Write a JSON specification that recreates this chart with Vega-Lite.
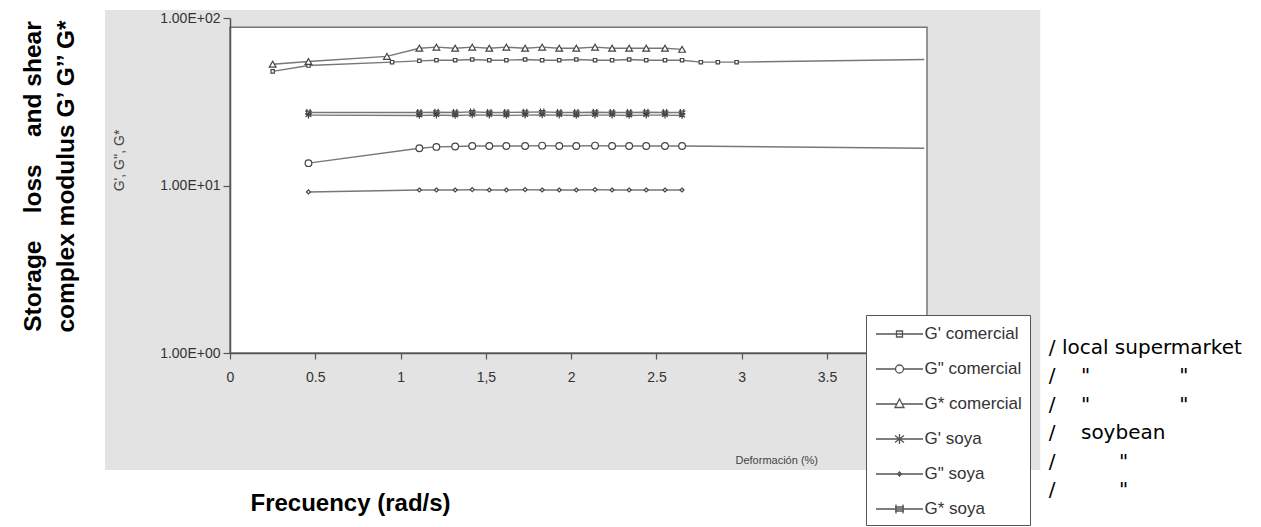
{
  "$schema": "https://vega.github.io/schema/vega-lite/v6.json",
  "width": 697,
  "height": 335,
  "autosize": {"type": "none"},
  "padding": {"left": 230, "top": 18, "right": 334, "bottom": 174},
  "background": "white",
  "config": {"view": {"stroke": null}, "font": "Liberation Sans"},
  "datasets": {
    "curves": [
      {"series": "G' comercial", "x": 0.25, "y": 48},
      {"series": "G' comercial", "x": 0.46, "y": 52},
      {"series": "G' comercial", "x": 0.95, "y": 54.5},
      {"series": "G' comercial", "x": 1.11, "y": 55.5},
      {"series": "G' comercial", "x": 1.21, "y": 56},
      {"series": "G' comercial", "x": 1.32, "y": 56},
      {"series": "G' comercial", "x": 1.42, "y": 56.5},
      {"series": "G' comercial", "x": 1.52, "y": 56},
      {"series": "G' comercial", "x": 1.62, "y": 56},
      {"series": "G' comercial", "x": 1.73, "y": 56.5},
      {"series": "G' comercial", "x": 1.83, "y": 56},
      {"series": "G' comercial", "x": 1.93, "y": 56},
      {"series": "G' comercial", "x": 2.03, "y": 56.5},
      {"series": "G' comercial", "x": 2.14, "y": 56},
      {"series": "G' comercial", "x": 2.24, "y": 56},
      {"series": "G' comercial", "x": 2.34, "y": 56.5},
      {"series": "G' comercial", "x": 2.44, "y": 56},
      {"series": "G' comercial", "x": 2.55, "y": 56},
      {"series": "G' comercial", "x": 2.65, "y": 56},
      {"series": "G' comercial", "x": 2.76, "y": 54.5},
      {"series": "G' comercial", "x": 2.86, "y": 54.5},
      {"series": "G' comercial", "x": 2.97, "y": 54.5},
      {"series": "G' comercial", "x": 4.07, "y": 56.5},
      {"series": "G\" comercial", "x": 0.46, "y": 13.6},
      {"series": "G\" comercial", "x": 1.11, "y": 16.7},
      {"series": "G\" comercial", "x": 1.21, "y": 17.0},
      {"series": "G\" comercial", "x": 1.32, "y": 17.1},
      {"series": "G\" comercial", "x": 1.42, "y": 17.2},
      {"series": "G\" comercial", "x": 1.52, "y": 17.2},
      {"series": "G\" comercial", "x": 1.62, "y": 17.2},
      {"series": "G\" comercial", "x": 1.73, "y": 17.2},
      {"series": "G\" comercial", "x": 1.83, "y": 17.3},
      {"series": "G\" comercial", "x": 1.93, "y": 17.2},
      {"series": "G\" comercial", "x": 2.03, "y": 17.2},
      {"series": "G\" comercial", "x": 2.14, "y": 17.3},
      {"series": "G\" comercial", "x": 2.24, "y": 17.2},
      {"series": "G\" comercial", "x": 2.34, "y": 17.2},
      {"series": "G\" comercial", "x": 2.44, "y": 17.2},
      {"series": "G\" comercial", "x": 2.55, "y": 17.2},
      {"series": "G\" comercial", "x": 2.65, "y": 17.2},
      {"series": "G\" comercial", "x": 4.07, "y": 16.7},
      {"series": "G* comercial", "x": 0.25, "y": 53},
      {"series": "G* comercial", "x": 0.46, "y": 55},
      {"series": "G* comercial", "x": 0.92, "y": 59},
      {"series": "G* comercial", "x": 1.11, "y": 66},
      {"series": "G* comercial", "x": 1.21, "y": 67},
      {"series": "G* comercial", "x": 1.32, "y": 66},
      {"series": "G* comercial", "x": 1.42, "y": 67},
      {"series": "G* comercial", "x": 1.52, "y": 66},
      {"series": "G* comercial", "x": 1.62, "y": 67},
      {"series": "G* comercial", "x": 1.73, "y": 66},
      {"series": "G* comercial", "x": 1.83, "y": 67},
      {"series": "G* comercial", "x": 1.93, "y": 66},
      {"series": "G* comercial", "x": 2.03, "y": 66},
      {"series": "G* comercial", "x": 2.14, "y": 67},
      {"series": "G* comercial", "x": 2.24, "y": 66},
      {"series": "G* comercial", "x": 2.34, "y": 66},
      {"series": "G* comercial", "x": 2.44, "y": 66},
      {"series": "G* comercial", "x": 2.55, "y": 66},
      {"series": "G* comercial", "x": 2.65, "y": 65},
      {"series": "G' soya", "x": 0.46, "y": 26.3},
      {"series": "G' soya", "x": 1.11, "y": 26.2},
      {"series": "G' soya", "x": 1.21, "y": 26.3},
      {"series": "G' soya", "x": 1.32, "y": 26.2},
      {"series": "G' soya", "x": 1.42, "y": 26.4},
      {"series": "G' soya", "x": 1.52, "y": 26.3},
      {"series": "G' soya", "x": 1.62, "y": 26.2},
      {"series": "G' soya", "x": 1.73, "y": 26.3},
      {"series": "G' soya", "x": 1.83, "y": 26.4},
      {"series": "G' soya", "x": 1.93, "y": 26.3},
      {"series": "G' soya", "x": 2.03, "y": 26.2},
      {"series": "G' soya", "x": 2.14, "y": 26.3},
      {"series": "G' soya", "x": 2.24, "y": 26.3},
      {"series": "G' soya", "x": 2.34, "y": 26.2},
      {"series": "G' soya", "x": 2.44, "y": 26.3},
      {"series": "G' soya", "x": 2.55, "y": 26.3},
      {"series": "G' soya", "x": 2.65, "y": 26.2},
      {"series": "G\" soya", "x": 0.46, "y": 9.15},
      {"series": "G\" soya", "x": 1.11, "y": 9.4},
      {"series": "G\" soya", "x": 1.21, "y": 9.4},
      {"series": "G\" soya", "x": 1.32, "y": 9.4},
      {"series": "G\" soya", "x": 1.42, "y": 9.45},
      {"series": "G\" soya", "x": 1.52, "y": 9.4},
      {"series": "G\" soya", "x": 1.62, "y": 9.4},
      {"series": "G\" soya", "x": 1.73, "y": 9.45},
      {"series": "G\" soya", "x": 1.83, "y": 9.4},
      {"series": "G\" soya", "x": 1.93, "y": 9.4},
      {"series": "G\" soya", "x": 2.03, "y": 9.4},
      {"series": "G\" soya", "x": 2.14, "y": 9.45},
      {"series": "G\" soya", "x": 2.24, "y": 9.4},
      {"series": "G\" soya", "x": 2.34, "y": 9.4},
      {"series": "G\" soya", "x": 2.44, "y": 9.4},
      {"series": "G\" soya", "x": 2.55, "y": 9.4},
      {"series": "G\" soya", "x": 2.65, "y": 9.4},
      {"series": "G* soya", "x": 0.46, "y": 27.3},
      {"series": "G* soya", "x": 1.11, "y": 27.3},
      {"series": "G* soya", "x": 1.21, "y": 27.4},
      {"series": "G* soya", "x": 1.32, "y": 27.3},
      {"series": "G* soya", "x": 1.42, "y": 27.5},
      {"series": "G* soya", "x": 1.52, "y": 27.3},
      {"series": "G* soya", "x": 1.62, "y": 27.3},
      {"series": "G* soya", "x": 1.73, "y": 27.4},
      {"series": "G* soya", "x": 1.83, "y": 27.5},
      {"series": "G* soya", "x": 1.93, "y": 27.3},
      {"series": "G* soya", "x": 2.03, "y": 27.3},
      {"series": "G* soya", "x": 2.14, "y": 27.4},
      {"series": "G* soya", "x": 2.24, "y": 27.3},
      {"series": "G* soya", "x": 2.34, "y": 27.3},
      {"series": "G* soya", "x": 2.44, "y": 27.4},
      {"series": "G* soya", "x": 2.55, "y": 27.3},
      {"series": "G* soya", "x": 2.65, "y": 27.3}
    ],
    "notes": [
      {"series": "G' comercial", "note": "/ local supermarket"},
      {"series": "G\" comercial", "note": "/\u00a0\u00a0\u00a0\u00a0\"\u00a0\u00a0\u00a0\u00a0\u00a0\u00a0\u00a0\u00a0\u00a0\u00a0\u00a0\u00a0\u00a0\u00a0\""},
      {"series": "G* comercial", "note": "/\u00a0\u00a0\u00a0\u00a0\"\u00a0\u00a0\u00a0\u00a0\u00a0\u00a0\u00a0\u00a0\u00a0\u00a0\u00a0\u00a0\u00a0\u00a0\""},
      {"series": "G' soya", "note": "/\u00a0\u00a0\u00a0\u00a0soybean"},
      {"series": "G\" soya", "note": "/\u00a0\u00a0\u00a0\u00a0\u00a0\u00a0\u00a0\u00a0\u00a0\u00a0\""},
      {"series": "G* soya", "note": "/\u00a0\u00a0\u00a0\u00a0\u00a0\u00a0\u00a0\u00a0\u00a0\u00a0\""}
    ]
  },
  "resolve": {"scale": {"x": "independent", "y": "independent"}},
  "layer": [
    {
      "resolve": {"scale": {"shape": "independent"}},
      "layer": [
        {
          "data": {"values": [{}]},
          "mark": {"type": "rect", "fill": "#e3e3e3"},
          "encoding": {
            "x": {
              "datum": -0.733, "type": "quantitative",
              "scale": {"domain": [0, 4.086], "nice": false, "zero": false},
              "axis": {
                "values": [0, 0.5, 1, 1.5, 2, 2.5, 3, 3.5],
                "format": "~g",
                "labelExpr": "datum.value == 1.5 ? '1,5' : datum.label",
                "grid": false, "zindex": 1,
                "domainColor": "#555", "domainWidth": 1.5,
                "tickColor": "#555", "tickSize": 6, "tickWidth": 1.2,
                "labelFontSize": 14, "labelColor": "#333", "labelPadding": 11,
                "labelFlush": false, "labelOverlap": false,
                "title": "Frecuency (rad/s)",
                "titleFontSize": 24, "titleFontWeight": "bold", "titleColor": "black",
                "titleX": 20, "titleY": 157, "titleAlign": "left", "titleBaseline": "alphabetic"
              }
            },
            "x2": {"datum": 4.75},
            "y": {
              "datum": 111.6, "type": "quantitative",
              "scale": {"type": "log", "domain": [1, 100], "nice": false},
              "axis": {
                "values": [1, 10, 100],
                "labelExpr": "datum.value == 1 ? '1.00E+00' : (datum.value == 10 ? '1.00E+01' : '1.00E+02')",
                "grid": false, "zindex": 1,
                "domainColor": "#555", "domainWidth": 1.5,
                "tickColor": "#555", "tickSize": 7, "tickWidth": 1.2,
                "labelFontSize": 14, "labelColor": "#333", "labelPadding": 3,
                "labelFlush": false, "labelOverlap": false,
                "title": ["Storage\u00a0\u00a0\u00a0 loss\u00a0\u00a0\u00a0 and shear", "complex modulus G’ G’’ G*"],
                "titleFontSize": 24.5, "titleFontWeight": "bold", "titleColor": "black",
                "titleLineHeight": 33, "titleAngle": 270,
                "titleX": -185, "titleY": 158, "titleAlign": "center", "titleBaseline": "bottom"
              }
            },
            "y2": {"datum": 0.2}
          }
        },
        {
          "data": {"values": [{}]},
          "mark": {"type": "rect", "fill": "white", "stroke": "#777", "strokeWidth": 1.5},
          "encoding": {
            "x": {"datum": 0, "type": "quantitative", "scale": {"domain": [0, 4.086], "nice": false, "zero": false}},
            "x2": {"datum": 4.086},
            "y": {"datum": 88, "type": "quantitative", "scale": {"type": "log", "domain": [1, 100], "nice": false}},
            "y2": {"datum": 1}
          }
        },
        {
          "data": {"name": "curves"},
          "mark": {"type": "line", "color": "#777", "strokeWidth": 1.4},
          "encoding": {
            "x": {"field": "x", "type": "quantitative", "scale": {"domain": [0, 4.086], "nice": false, "zero": false}},
            "y": {"field": "y", "type": "quantitative", "scale": {"type": "log", "domain": [1, 100], "nice": false}},
            "detail": {"field": "series"}
          }
        },
        {
          "data": {"name": "curves"},
          "transform": [{"filter": "datum.x < 4"}],
          "mark": {"type": "point", "fill": "white", "stroke": "#444", "strokeWidth": 1.2, "size": 45, "opacity": 1},
          "encoding": {
            "x": {"field": "x", "type": "quantitative", "scale": {"domain": [0, 4.086], "nice": false, "zero": false}},
            "y": {"field": "y", "type": "quantitative", "scale": {"type": "log", "domain": [1, 100], "nice": false}},
            "shape": {
              "field": "series", "type": "nominal",
              "scale": {
                "domain": ["G' comercial", "G\" comercial", "G* comercial", "G' soya", "G\" soya", "G* soya"],
                "range": [
                  "M-0.5,-0.5H0.5V0.5H-0.5Z",
                  "circle",
                  "triangle-up",
                  "M0,-1V1M-0.87,-0.5L0.87,0.5M-0.87,0.5L0.87,-0.5",
                  "M0,-0.6L0.6,0L0,0.6L-0.6,0Z",
                  "M-0.5,-1V1M0.5,-1V1M-1,-0.4H1M-1,0.4H1"
                ]
              },
              "legend": null
            }
          }
        },
        {
          "data": {"name": "curves"},
          "mark": {"type": "point", "filled": false, "color": "#555", "strokeWidth": 1.3, "size": 400, "opacity": 0},
          "encoding": {
            "x": {"field": "x", "type": "quantitative", "scale": {"domain": [0, 4.086], "nice": false, "zero": false}},
            "y": {"field": "y", "type": "quantitative", "scale": {"type": "log", "domain": [1, 100], "nice": false}},
            "shape": {
              "field": "series", "type": "nominal",
              "scale": {
                "domain": ["G' comercial", "G\" comercial", "G* comercial", "G' soya", "G\" soya", "G* soya"],
                "range": [
                  "M-2.35,0H2.35M-0.3,-0.3H0.3V0.3H-0.3Z",
                  "M-2.35,0H-0.4M0.4,0H2.35M0.4,0A0.4,0.4 0 1,1 -0.4,0A0.4,0.4 0 1,1 0.4,0Z",
                  "M-2.35,0H-0.3M0.3,0H2.35M0,-0.5L0.45,0.35H-0.45Z",
                  "M-2.35,0H2.35M0,-0.5V0.5M-0.45,-0.35L0.45,0.35M-0.45,0.35L0.45,-0.35",
                  "M-2.35,0H2.35M0,-0.2L0.2,0L0,0.2L-0.2,0Z",
                  "M-2.35,0H2.35M-0.35,-0.45V0.45M0.35,-0.45V0.45M-0.45,-0.2H0.45M-0.45,0.2H0.45"
                ]
              },
              "legend": {
                "title": null, "orient": "none", "legendX": 636, "legendY": 297,
                "padding": 8, "fillColor": "white", "strokeColor": "#555",
                "symbolSize": 400, "symbolOffset": 14.5, "symbolStrokeColor": "#555",
                "symbolStrokeWidth": 1.3, "symbolOpacity": 1,
                "labelOffset": 14, "rowPadding": 16, "labelFontSize": 17,
                "labelColor": "#333", "labelLimit": 300, "zindex": 2
              }
            }
          }
        }
      ]
    },
    {
      "data": {"name": "notes"},
      "mark": {"type": "text", "align": "left", "baseline": "middle", "font": "DejaVu Sans", "fontSize": 20, "color": "black"},
      "encoding": {
        "x": {
          "datum": 4.8, "type": "quantitative",
          "scale": {"domain": [0, 4.086], "nice": false, "zero": false},
          "axis": {
            "orient": "bottom", "labels": false, "ticks": false, "domain": false, "grid": false, "zindex": 1,
            "title": "Deformación (%)", "titleX": 505, "titleY": 107, "titleAlign": "left",
            "titleBaseline": "middle", "titleFontSize": 11, "titleFontWeight": "normal", "titleColor": "#444"
          }
        },
        "y": {
          "field": "series", "type": "ordinal",
          "scale": {"type": "point", "domain": ["G' comercial", "G\" comercial", "G* comercial", "G' soya", "G\" soya", "G* soya"], "range": [330, 472], "padding": 0},
          "axis": {
            "orient": "left", "labels": false, "ticks": false, "domain": false, "grid": false, "zindex": 1,
            "title": "G', G'', G*", "titleX": -104, "titleY": 142, "titleAngle": 270,
            "titleAlign": "center", "titleBaseline": "bottom",
            "titleFontSize": 14, "titleFontWeight": "normal", "titleColor": "#444"
          }
        },
        "text": {"field": "note"}
      }
    }
  ]
}
